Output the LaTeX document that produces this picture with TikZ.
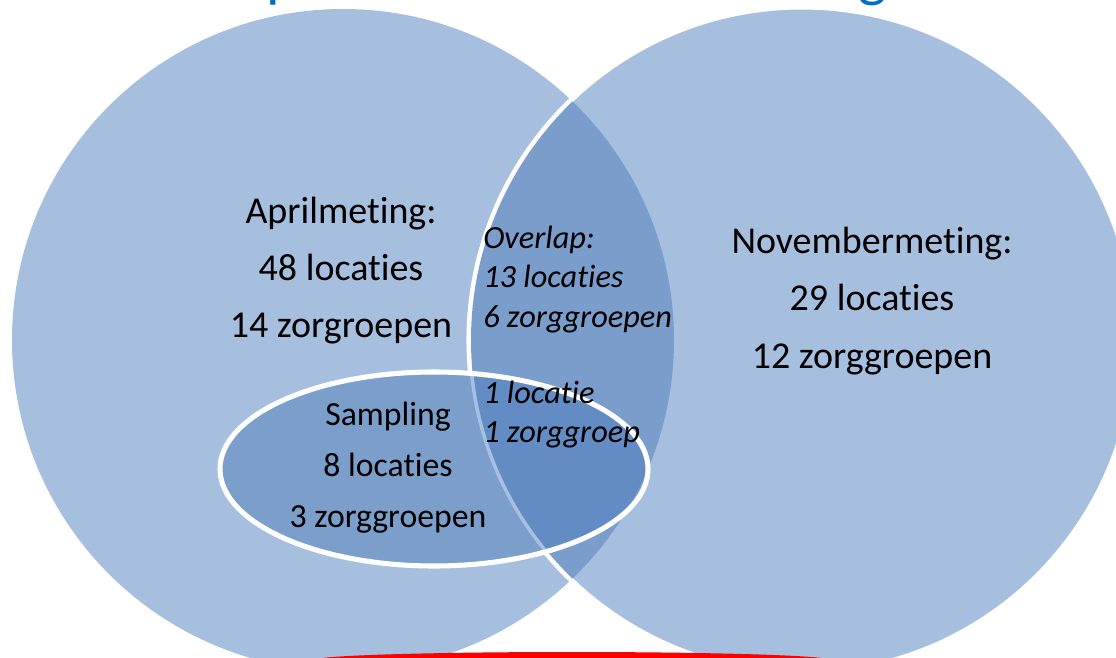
\documentclass[tikz,border=0pt]{standalone}
\usepackage{fontspec}
\setmainfont{Carlito}[Ligatures = NoCommon]

\definecolor{circlefill}{HTML}{A7BFDE}
\definecolor{lensfill}{HTML}{7A9DCB}
\definecolor{samplefill}{HTML}{7C9ECB}
\definecolor{samplelens}{HTML}{628CC3}
\definecolor{edgelight}{HTML}{A6C0E1}
\definecolor{titleblue}{HTML}{0070C0}

\begin{document}
\begin{tikzpicture}[x = 0.025cm, y = -0.025cm,
	bigtxt/.style = {font = \fontsize{27}{32}\selectfont, anchor = base, inner sep = 0pt},
	smalltxt/.style = {font = \fontsize{24}{29}\selectfont, anchor = base, inner sep = 0pt},
	ittxt/.style = {font = \fontsize{23}{28}\selectfont\itshape, anchor = base west, inner sep = 0pt},
	titletxt/.style = {font = \fontsize{43}{50}\selectfont, text = titleblue, anchor = base west, inner sep = 0pt}]
	\clip (0, 0) rectangle (1116, 657);
	
	% the two measurements
	\fill[circlefill] (343, 340) circle (331);
	\fill[circlefill] (802, 340) circle (333);
	\draw[white, line width = 3.6pt] (802, 340) circle (333);
	\begin{scope}
		\clip (343, 340) circle (331);
		\fill[lensfill] (802, 340) circle (331);
	\end{scope}
	
	% sampling
	\fill[samplefill] (434, 469) ellipse [x radius = 214, y radius = 97];
	\begin{scope}
		\clip (434, 469) ellipse [x radius = 214, y radius = 97];
		\begin{scope}
			\clip (343, 340) circle (331);
			\fill[samplelens] (802, 340) circle (331);
		\end{scope}
		\draw[edgelight, line width = 2.5pt] (802, 340) circle (332);
	\end{scope}
	\draw[white, line width = 3.6pt] (434, 469) ellipse [x radius = 214, y radius = 97];
	
	% title, cut off at the top
	\node[titletxt] (titlep) at (266, -4) {p};
	\node[titletxt] (titleg) at (858, -4) {g};
	\fill[red] (572, 660) ellipse [x radius = 258, y radius = 8];
	
	\foreach \txt [count = \i] in {Aprilmeting:, 48 locaties, 14 zorgroepen}
	\node[bigtxt] (april\i) at (341, {223 + 57 * (\i - 1)}) {\txt};
	\foreach \txt [count = \i] in {Novembermeting:, 29 locaties, 12 zorggroepen}
	\node[bigtxt] (nov\i) at (872, {253 + 57.5 * (\i - 1)}) {\txt};
	\foreach \txt [count = \i] in {Overlap:, 13 locaties, 6 zorggroepen}
	\node[ittxt] (overlap\i) at (483, {248 + 39.5 * (\i - 1)}) {\txt};
	\foreach \txt [count = \i] in {1 locatie, 1 zorggroep}
	\node[ittxt] (both\i) at (483, {403 + 39.5 * (\i - 1)}) {\txt};
	\foreach \txt [count = \i] in {Sampling, 8 locaties, 3 zorggroepen}
	\node[smalltxt] (sample\i) at (388, {425 + 51 * (\i - 1)}) {\txt};
\end{tikzpicture}
\end{document}
